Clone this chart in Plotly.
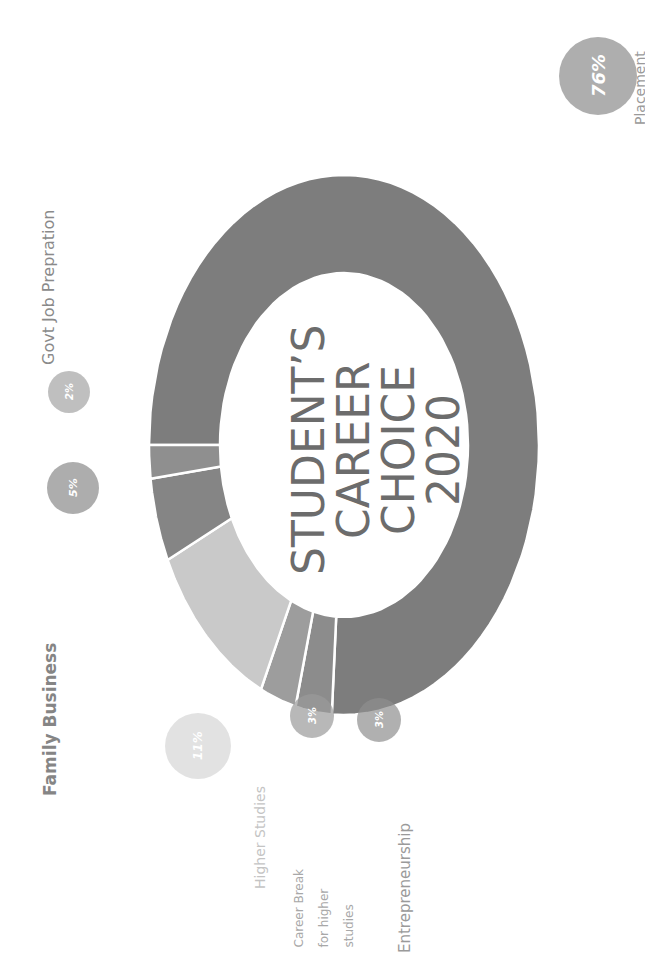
import numpy as np
import plotly.graph_objects as go

# data (picture is a photo of a slide turned 90 degrees, so text reads bottom-to-top)
categories = ["Placement", "Entrepreneurship", "Career Break for higher studies",
              "Higher Studies", "Family Business", "Govt Job Prepration"]
values = [76, 3, 3, 11, 5, 2]
title_lines = ["STUDENT\u2019S", "CAREER", "CHOICE", "2020"]

# styles / positions (image pixel space)
seg_colors = ["#7d7d7d", "#8c8c8c", "#9d9d9d", "#c9c9c9", "#858585", "#8f8f8f"]
cx, cy = 336, 437
rx_out, ry_out = 195, 270
rx_in, ry_in = 124, 172
start_deg = 270
FONT = "DejaVu Sans"

bubble_xy = [(590, 68), (371, 712), (304, 708), (190, 738), (65, 480), (61, 384)]
bubble_size = [78, 44, 44, 66, 52, 42]
bubble_colors = ["#8c8c8c", "#8e8e8e", "#9a9a9a", "#d6d6d6", "#8a8a8a", "#a4a4a4"]
bubble_font = [18, 10, 10, 12, 11, 10]

fig = go.Figure()

# donut ring drawn as filled wedges on stretched axes
total = float(sum(values))
edges = start_deg + 360 * np.concatenate([[0], np.cumsum(values)]) / total
for i, name in enumerate(categories):
    th = np.radians(np.linspace(edges[i], edges[i + 1], 80))
    xo = cx + rx_out * np.sin(th)
    yo = cy - ry_out * np.cos(th)
    xi = cx + rx_in * np.sin(th[::-1])
    yi = cy - ry_in * np.cos(th[::-1])
    fig.add_trace(go.Scatter(
        x=np.concatenate([xo, xi, xo[:1]]),
        y=np.concatenate([yo, yi, yo[:1]]),
        mode="lines", fill="toself", fillcolor=seg_colors[i],
        line=dict(color="white", width=2.5),
        name=name, hoverinfo="name", showlegend=False))

# bubbles
fig.add_trace(go.Scatter(
    x=[p[0] for p in bubble_xy], y=[p[1] for p in bubble_xy],
    mode="markers",
    marker=dict(size=bubble_size, color=bubble_colors, line=dict(width=0)),
    hoverinfo="skip", showlegend=False))

ann = []
for i, v in enumerate(values):
    ann.append(dict(x=bubble_xy[i][0], y=bubble_xy[i][1], text="<b><i>%d%%</i></b>" % v,
                    textangle=-90, showarrow=False,
                    font=dict(size=bubble_font[i], color="white", family=FONT)))

# centre title
for k, line in enumerate(title_lines):
    ann.append(dict(x=300 + 45 * k, y=442, text=line, textangle=-90, showarrow=False,
                    font=dict(size=44, color="#6c6c6c", family=FONT)))

# category labels
ann += [
    dict(x=632, y=80, text="Placement", textangle=-90, showarrow=False,
         font=dict(size=14, color="#9a9a9a", family=FONT)),
    dict(x=40, y=280, text="Govt Job Prepration", textangle=-90, showarrow=False,
         font=dict(size=16, color="#8a8a8a", family=FONT)),
    dict(x=42, y=712, text="<b>Family Business</b>", textangle=-90, showarrow=False,
         font=dict(size=17, color="#858585", family=FONT)),
    dict(x=252, y=830, text="Higher Studies", textangle=-90, showarrow=False,
         font=dict(size=14, color="#c4c4c4", family=FONT)),
    dict(x=397, y=880, text="Entrepreneurship", textangle=-90, showarrow=False,
         font=dict(size=15, color="#9a9a9a", family=FONT)),
]
for k, line in enumerate(["Career Break", "for higher", "studies"]):
    ann.append(dict(x=290 + 25 * k, y=942, text=line, textangle=-90, showarrow=False,
                    yanchor="bottom",
                    font=dict(size=12, color="#a8a8a8", family=FONT)))

fig.update_layout(
    width=653, height=966,
    margin=dict(l=0, r=0, t=0, b=0),
    paper_bgcolor="white", plot_bgcolor="white",
    xaxis=dict(range=[0, 653], visible=False, fixedrange=True),
    yaxis=dict(range=[966, 0], visible=False, fixedrange=True),
    annotations=ann,
)

fig.write_html("out.html")
